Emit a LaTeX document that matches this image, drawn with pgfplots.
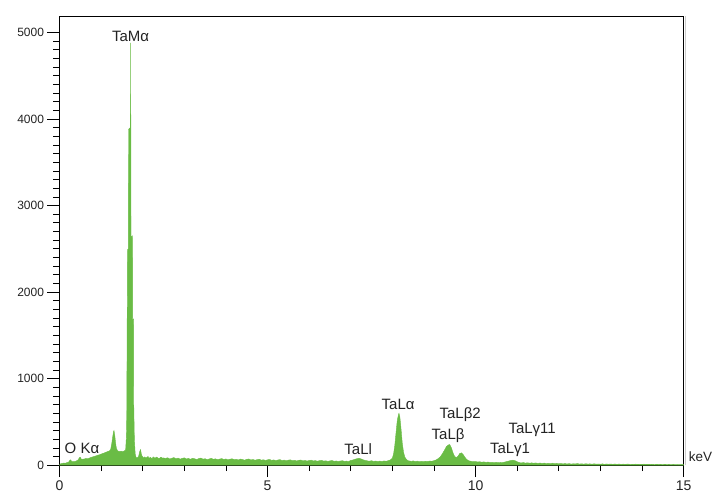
\documentclass[border=0pt]{standalone}
\usepackage{fontspec}
\setmainfont{Liberation Sans}
\usepackage{pgfplots}
\pgfplotsset{compat=1.18}
\definecolor{spec}{RGB}{106,188,69}
\definecolor{txt}{RGB}{35,35,35}
\begin{document}
\begin{tikzpicture}
\begin{axis}[
  width=624.5pt, height=449.5pt, scale only axis,
  xmin=0, xmax=15, ymin=0, ymax=5190,
  xtick={0,5,10,15}, minor x tick num=4,
  ytick={0,1000,...,5000}, minor y tick num=9,
  tick pos=left, tick align=outside,
  major tick length=12pt, minor tick length=6pt,
  tick style={black, line width=0.7pt},
  axis line style={black, line width=0.9pt},
  /pgf/number format/assume math mode=true,
  /pgf/number format/set thousands separator={},
  xticklabel style={font=\fontsize{14}{16}\selectfont, text=txt},
  yticklabel style={font=\fontsize{12}{14}\selectfont, text=txt},
  scaled y ticks=false,
  clip=false,
]
% spectrum: counts vs energy (keV)
\addplot[fill=spec, draw=spec, line width=0.4pt] coordinates {
(0,0)(0.02,15)(0.06,20)(0.10,24)(0.14,22)(0.18,30)(0.22,35)(0.25,58)(0.27,62)(0.29,45)
(0.33,40)(0.37,42)(0.41,50)(0.45,62)(0.48,88)(0.50,92)(0.52,72)(0.56,68)(0.60,72)(0.64,78)
(0.68,74)(0.72,82)(0.76,90)(0.80,96)(0.84,102)(0.88,108)(0.92,115)(0.96,120)(1.00,128)(1.04,135)
(1.08,142)(1.12,150)(1.16,158)(1.20,165)(1.23,180)(1.26,260)(1.28,330)(1.30,390)(1.31,400)(1.33,340)
(1.35,250)(1.37,190)(1.40,165)(1.44,158)(1.48,162)(1.52,156)(1.56,165)(1.59,175)
(1.605,300)(1.615,450)(1.625,1400)(1.635,2490)(1.655,2500)(1.66,3880)(1.705,3900)(1.71,4880)(1.715,3900)(1.72,2640)
(1.755,2650)(1.76,1680)(1.78,1690)(1.785,700)(1.80,300)(1.82,130)(1.84,90)(1.87,85)(1.90,100)(1.93,160)
(1.95,180)(1.97,120)(2.00,95)
(2.03,84)(2.05,96)(2.08,80)(2.10,92)(2.13,100)(2.15,78)(2.18,90)(2.20,85)(2.23,74)(2.25,96)(2.28,86)(2.30,82)(2.33,94)(2.35,88)(2.38,79)(2.40,75)(2.43,92)(2.45,90)(2.48,80)(2.50,84)
(2.55,78)(2.60,86)(2.65,72)(2.70,80)(2.75,88)(2.80,74)(2.85,82)(2.90,70)(2.95,79)(3.00,85)
(3.05,72)(3.10,78)(3.15,68)(3.20,80)(3.25,74)(3.30,66)(3.35,77)(3.40,82)(3.45,70)(3.50,75)
(3.55,64)(3.60,72)(3.65,79)(3.70,68)(3.75,74)(3.80,63)(3.85,71)(3.90,76)(3.95,66)(4.00,72)
(4.05,62)(4.10,70)(4.15,74)(4.20,64)(4.25,68)(4.30,60)(4.35,71)(4.40,65)(4.45,58)(4.50,67)
(4.55,72)(4.60,61)(4.65,66)(4.70,57)(4.75,64)(4.80,69)(4.85,58)(4.90,63)(4.95,55)(5.00,62)
(5.05,66)(5.10,56)(5.15,61)(5.20,53)(5.25,60)(5.30,64)(5.35,54)(5.40,59)(5.45,51)(5.50,58)
(5.55,62)(5.60,52)(5.65,57)(5.70,49)(5.75,56)(5.80,60)(5.85,50)(5.90,55)(5.95,48)(6.00,54)
(6.05,58)(6.10,49)(6.15,53)(6.20,46)(6.25,52)(6.30,56)(6.35,47)(6.40,51)(6.45,44)(6.50,50)
(6.55,54)(6.60,45)(6.65,49)(6.70,43)(6.75,48)(6.80,52)(6.85,44)(6.90,47)(6.95,42)(7.00,55)
(7.05,60)(7.10,68)(7.15,75)(7.20,80)(7.25,72)(7.30,62)(7.35,55)(7.40,50)(7.45,46)(7.50,52)
(7.55,44)(7.60,48)(7.65,42)(7.70,47)(7.75,43)(7.80,49)(7.85,45)(7.90,52)(7.95,60)
(8.00,80)(8.03,130)(8.06,230)(8.09,380)(8.12,520)(8.15,590)(8.16,600)(8.18,560)(8.20,470)(8.22,360)
(8.24,250)(8.27,150)(8.30,95)(8.34,65)(8.38,52)(8.42,48)(8.46,44)(8.50,50)(8.55,42)(8.60,47)
(8.65,40)(8.70,45)(8.75,41)(8.80,46)(8.85,43)(8.90,48)(8.95,45)(9.00,52)(9.05,60)
(9.10,75)(9.15,95)(9.20,130)(9.25,170)(9.30,215)(9.35,235)(9.38,238)(9.42,200)(9.46,140)(9.50,100)
(9.54,88)(9.58,105)(9.62,135)(9.66,142)(9.70,125)(9.74,95)(9.78,70)(9.82,55)(9.86,48)(9.90,44)
(9.95,40)(10.00,42)(10.05,37)(10.10,40)(10.15,34)(10.20,38)(10.25,33)(10.30,36)(10.35,31)(10.40,34)
(10.45,30)(10.50,33)(10.55,29)(10.60,32)(10.65,30)(10.70,36)(10.75,42)(10.80,48)(10.85,55)(10.90,58)
(10.95,52)(11.00,40)(11.05,30)(11.10,26)(11.15,30)(11.20,24)(11.25,28)(11.30,23)(11.35,27)(11.40,22)
(11.45,26)(11.50,21)(11.55,25)(11.60,20)(11.65,24)(11.70,19)(11.75,22)(11.80,18)(11.85,23)(11.90,17)
(11.95,21)(12.00,16)(12.05,20)(12.10,15)(12.15,19)(12.20,14)(12.25,18)(12.30,13)(12.35,17)(12.40,14)
(12.45,19)(12.50,13)(12.55,16)(12.60,12)(12.65,17)(12.70,13)(12.75,15)(12.80,11)(12.85,16)(12.90,12)
(12.95,14)(13.00,11)(13.05,15)(13.10,10)(13.15,14)(13.20,11)(13.25,13)(13.30,10)(13.35,14)(13.40,9)
(13.45,13)(13.50,10)(13.55,12)(13.60,9)(13.65,13)(13.70,10)(13.75,11)(13.80,8)(13.85,12)(13.90,9)
(13.95,11)(14.00,8)(14.05,12)(14.10,9)(14.15,10)(14.20,8)(14.25,11)(14.30,7)(14.35,10)(14.40,8)
(14.45,9)(14.50,7)(14.55,10)(14.60,7)(14.65,9)(14.70,6)(14.75,9)(14.80,7)(14.85,8)(14.90,6)
(14.95,8)(15.00,6)
} \closedcycle;
\begin{scope}[every node/.style={font=\fontsize{15}{17}\selectfont, text=txt, inner sep=0pt}]
\node at (axis cs:1.71,4957) {TaMα};
\node at (axis cs:0.54,190) {O Kα};
\node at (axis cs:7.18,190) {TaLl};
\node at (axis cs:8.14,700) {TaLα};
\node at (axis cs:9.63,580) {TaLβ2};
\node at (axis cs:9.34,345) {TaLβ};
\node at (axis cs:10.83,180) {TaLγ1};
\node at (axis cs:11.36,410) {TaLγ11};
\end{scope}
\node[font=\fontsize{13.5}{15}\selectfont, text=txt, anchor=south west, inner sep=0pt] at ([xshift=5pt,yshift=3pt]rel axis cs:1,0) {keV};
\draw[gray!40, line width=1pt] ([xshift=1.5pt]rel axis cs:1,0) -- ([xshift=1.5pt]rel axis cs:1,1);
\path (rel axis cs:-0.0953,-0.0523) rectangle (rel axis cs:1.0448,1.0356);
\end{axis}
\end{tikzpicture}
\end{document}
